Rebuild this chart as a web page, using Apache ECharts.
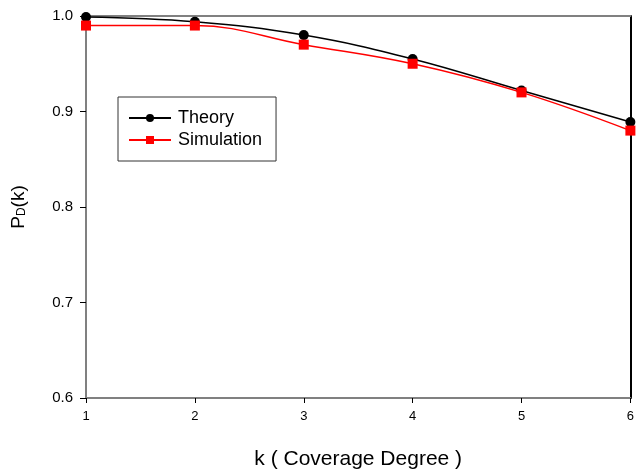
<!DOCTYPE html>
<html><head><meta charset="utf-8">
<script src="https://cdn.jsdelivr.net/npm/echarts@6/dist/echarts.min.js"></script>
<style>html,body{margin:0;padding:0;background:#fff;overflow:hidden}#c{width:637px;height:475px}</style>
</head><body><div id="c"></div>
<script>
const kValues = [1, 2, 3, 4, 5, 6];
const theory = [0.999, 0.994, 0.980, 0.955, 0.922, 0.889];
const simulation = [0.990, 0.990, 0.970, 0.950, 0.920, 0.880];
const yTicks = [0.6, 0.7, 0.8, 0.9, 1.0];

const chart = echarts.init(document.getElementById('c'), null, {renderer: 'canvas'});
const font = 'Liberation Sans, Arial, sans-serif';
const gray = '#808080';
chart.setOption({
  animation: false,
  backgroundColor: '#fff',
  grid: {left: 86, right: 3, top: 16, bottom: 75, show: false, containLabel: false},
  legend: {
    left: 118, top: 97,
    orient: 'vertical',
    padding: [12, 14, 12, 10],
    itemGap: 4,
    itemWidth: 42, itemHeight: 10,
    borderColor: '#333', borderWidth: 1,
    textStyle: {fontFamily: font, fontSize: 18, color: '#000', padding: [0,0,0,2]},
    data: ['Theory', 'Simulation']
  },
  xAxis: [{
    type: 'value', min: 1, max: 6, interval: 1,
    name: 'k ( Coverage Degree )', nameLocation: 'middle', nameGap: 51,
    nameTextStyle: {fontFamily: font, fontSize: 21, color: '#000'},
    axisLine: {lineStyle: {color: gray, width: 2}},
    axisTick: {show: true, length: 5, lineStyle: {color: '#000', width: 1}},
    axisLabel: {fontFamily: font, fontSize: 13, color: '#000', margin: 12},
    splitLine: {show: false}
  }, {
    type: 'value', min: 1, max: 6, position: 'top',
    axisLine: {show: true, onZero: false, lineStyle: {color: gray, width: 2}},
    axisTick: {show: false}, axisLabel: {show: false}, splitLine: {show: false}
  }],
  yAxis: [{
    type: 'value', min: 0.6, max: 1.0, interval: 0.1,
    name: '{a|P}{b|D}{a|(k)}', nameLocation: 'middle', nameGap: 58, nameRotate: 90,
    nameTextStyle: {rich: {
      a: {fontFamily: font, fontSize: 19, color: '#000'},
      b: {fontFamily: font, fontSize: 12, color: '#000', verticalAlign: 'bottom', padding: [7,0,0,0]}
    }},
    axisLine: {lineStyle: {color: gray, width: 2}},
    axisTick: {show: true, length: 6, lineStyle: {color: '#000', width: 1}},
    axisLabel: {fontFamily: font, fontSize: 15, color: '#000', margin: 13,
      formatter: v => v.toFixed(1)},
    splitLine: {show: false}
  }, {
    type: 'value', min: 0.6, max: 1.0, position: 'right',
    axisLine: {show: true, onZero: false, lineStyle: {color: '#000', width: 2}},
    axisTick: {show: false}, axisLabel: {show: false}, splitLine: {show: false}
  }],
  series: [{
    name: 'Theory', type: 'line', smooth: 0.4,
    data: kValues.map((k, i) => [k, theory[i]]),
    symbol: 'circle', symbolSize: 10,
    itemStyle: {color: '#000'}, lineStyle: {color: '#000', width: 1.5},
    clip: false, z: 3
  }, {
    name: 'Simulation', type: 'line', smooth: 0.4,
    data: kValues.map((k, i) => [k, simulation[i]]),
    symbol: 'rect', symbolSize: 10,
    itemStyle: {color: '#ff0000'}, lineStyle: {color: '#ff0000', width: 1.5},
    clip: false, z: 4
  }]
});
</script></body></html>
